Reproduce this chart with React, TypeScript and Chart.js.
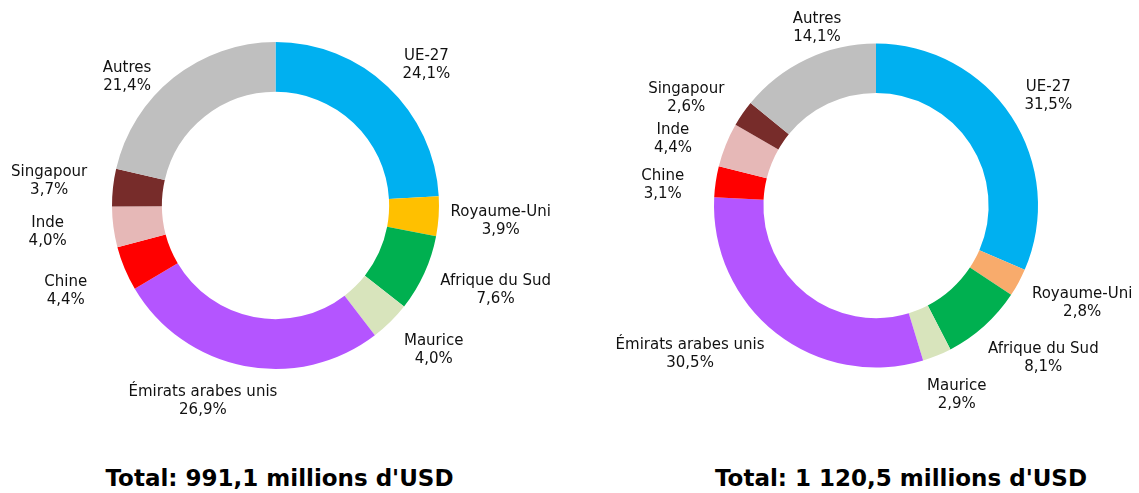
import React, { useEffect, useRef } from "react";
import { Chart, registerables } from "chart.js";

Chart.register(...registerables);

const categories = [
  "UE-27",
  "Royaume-Uni",
  "Afrique du Sud",
  "Maurice",
  "Émirats arabes unis",
  "Chine",
  "Inde",
  "Singapour",
  "Autres",
];
const values1 = [24.1, 3.9, 7.6, 4.0, 26.9, 4.4, 4.0, 3.7, 21.4];
const values2 = [31.5, 2.8, 8.1, 2.9, 30.5, 3.1, 4.4, 2.6, 14.1];
const totalLabels = ["Total: 991,1 millions d'USD", "Total: 1 120,5 millions d'USD"];

const colors1 = ["#00B0F0", "#FFC000", "#00B050", "#D8E4BC", "#B455FF", "#FF0000", "#E6B8B7", "#772C2A", "#BFBFBF"];
const colors2 = ["#00B0F0", "#F8AB6C", "#00B050", "#D8E4BC", "#B455FF", "#FF0000", "#E6B8B7", "#772C2A", "#BFBFBF"];

// label nudges (px) relative to the generic outside placement
const nudges1: [number, number][] = [[14, 0], [0, 3], [10, 4], [14, 7], [-25, 6], [-28, 11], [-35, 1], [-14, -3], [-24, 23]];
const nudges2: [number, number][] = [[7, -4], [9, 6], [14, 10], [4, 12], [-33, -3], [-20, 8], [-24, 5], [-15, 2], [26, -4]];

const FONT = "'DejaVu Sans', Verdana, sans-serif";

const fmt = (v: number) => v.toFixed(1).replace(".", ",") + "%";

const outLabels = {
  id: "outLabels",
  afterDatasetsDraw(chart: any, _args: any, opts: any) {
    const ctx = chart.ctx;
    const meta = chart.getDatasetMeta(0);
    const ds = chart.data.datasets[0];
    const labels = chart.data.labels;
    const gap = opts.gap ?? 12;
    const lh = 18;
    ctx.save();
    ctx.font = `15px ${FONT}`;
    ctx.fillStyle = "#111";
    ctx.textAlign = "center";
    ctx.textBaseline = "middle";
    meta.data.forEach((arc: any, i: number) => {
      const p = arc.getProps(["x", "y", "startAngle", "endAngle", "outerRadius"], true);
      const a = (p.startAngle + p.endAngle) / 2;
      const dx = Math.cos(a);
      const dy = Math.sin(a);
      const l1 = String(labels[i]);
      const l2 = fmt(ds.data[i]);
      const w = Math.max(ctx.measureText(l1).width, ctx.measureText(l2).width);
      const h = lh * 2;
      const r = p.outerRadius + gap;
      const n = (opts.nudges && opts.nudges[i]) || [0, 0];
      const cx = p.x + r * dx + (dx * w) / 2 + n[0];
      const cy = p.y + r * dy + (dy * h) / 2 + n[1];
      ctx.fillText(l1, cx, cy - lh / 2);
      ctx.fillText(l2, cx, cy + lh / 2);
    });
    ctx.restore();
  },
};

function Donut(props: { values: number[]; colors: string[]; nudges: [number, number][]; padding: any; style: any }) {
  const ref = useRef<HTMLCanvasElement | null>(null);
  useEffect(() => {
    if (!ref.current) return;
    const chart = new Chart(ref.current, {
      type: "doughnut",
      data: {
        labels: categories,
        datasets: [
          {
            data: props.values,
            backgroundColor: props.colors,
            borderWidth: 0,
          },
        ],
      },
      options: {
        animation: false,
        responsive: false,
        maintainAspectRatio: false,
        cutout: "69.5%",
        layout: { padding: props.padding },
        plugins: {
          legend: { display: false },
          tooltip: { enabled: false },
          outLabels: { gap: 12, nudges: props.nudges },
        } as any,
      },
      plugins: [outLabels as any],
    });
    return () => chart.destroy();
  }, []);
  return <canvas ref={ref} width={props.style.width} height={props.style.height} style={{ position: "absolute", ...props.style }} />;
}

export default function App() {
  const totalStyle: any = {
    position: "absolute",
    top: 465,
    fontFamily: FONT,
    fontWeight: "bold",
    fontSize: 23,
    lineHeight: "26px",
    color: "#000",
    textAlign: "center",
    whiteSpace: "nowrap",
  };
  return (
    <div style={{ position: "fixed", left: 0, top: 0, width: 1139, height: 493, background: "#fff", overflow: "hidden" }}>
      <Donut
        values={values1}
        colors={colors1}
        nudges={nudges1}
        padding={{ top: 42, bottom: 81, left: 0, right: 0 }}
        style={{ left: 0, top: 0, width: 551, height: 450 }}
      />
      <Donut
        values={values2}
        colors={colors2}
        nudges={nudges2}
        padding={{ top: 43.5, bottom: 82.5, left: 13, right: 0 }}
        style={{ left: 600, top: 0, width: 539, height: 450 }}
      />
      <div style={{ ...totalStyle, left: 0, width: 559 }}>{totalLabels[0]}</div>
      <div style={{ ...totalStyle, left: 663, width: 476 }}>{totalLabels[1]}</div>
    </div>
  );
}
